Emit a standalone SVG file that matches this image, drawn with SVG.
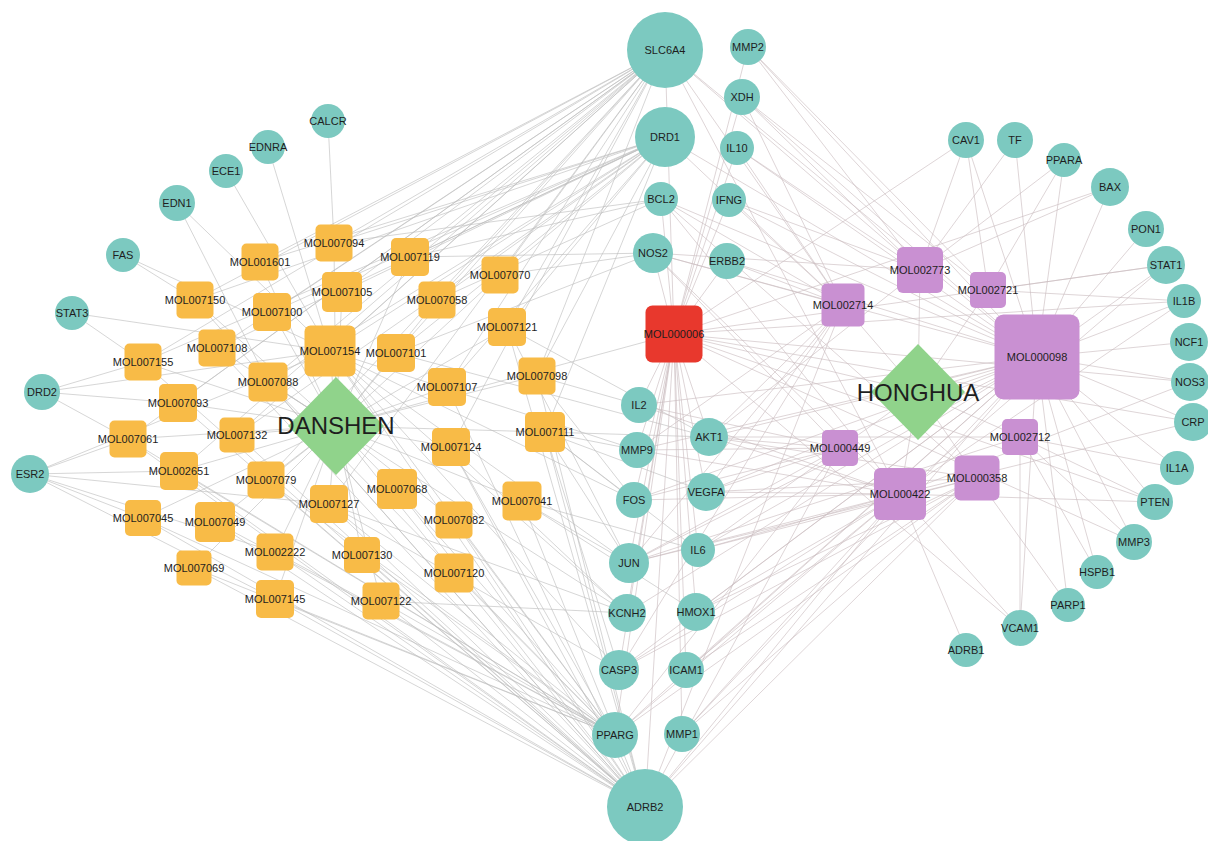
<svg xmlns="http://www.w3.org/2000/svg" width="1208" height="841" viewBox="0 0 1208 841">
<style>
.bg{fill:#ffffff}
.e line{stroke:#bdbdbd;stroke-width:0.7;stroke-opacity:0.9}
.e2 line{stroke:#cbbcc0;stroke-width:0.7;stroke-opacity:0.9}
.t{fill:#7cc9c0}
.d{fill:#f8bb47}
.p{fill:#c990d2}
.r{fill:#e8382d}
.g{fill:#90d38b}
.lb{font-family:"Liberation Sans",Arial,sans-serif;font-size:11px;fill:#1e1e1e;text-anchor:middle}
.big{font-family:"Liberation Sans",Arial,sans-serif;font-size:24px;fill:#1e1e1e;text-anchor:middle}
</style>
<rect class="bg" x="0" y="0" width="1208" height="841"/>
<g id="connectors">
<g class="e">
<line x1="336" y1="426" x2="334" y2="243"/><line x1="336" y1="426" x2="260" y2="262"/><line x1="336" y1="426" x2="410" y2="257"/><line x1="336" y1="426" x2="342" y2="292"/><line x1="336" y1="426" x2="195" y2="300"/><line x1="336" y1="426" x2="272" y2="312"/><line x1="336" y1="426" x2="437" y2="300"/><line x1="336" y1="426" x2="500" y2="275"/><line x1="336" y1="426" x2="507" y2="327"/><line x1="336" y1="426" x2="217" y2="348"/><line x1="336" y1="426" x2="330" y2="351"/><line x1="336" y1="426" x2="396" y2="353"/><line x1="336" y1="426" x2="143" y2="362"/><line x1="336" y1="426" x2="268" y2="382"/><line x1="336" y1="426" x2="178" y2="403"/><line x1="336" y1="426" x2="447" y2="387"/><line x1="336" y1="426" x2="537" y2="376"/><line x1="336" y1="426" x2="128" y2="439"/><line x1="336" y1="426" x2="237" y2="435"/><line x1="336" y1="426" x2="451" y2="447"/><line x1="336" y1="426" x2="545" y2="432"/><line x1="336" y1="426" x2="179" y2="471"/><line x1="336" y1="426" x2="266" y2="480"/><line x1="336" y1="426" x2="329" y2="504"/><line x1="336" y1="426" x2="397" y2="489"/><line x1="336" y1="426" x2="522" y2="501"/><line x1="336" y1="426" x2="454" y2="520"/><line x1="336" y1="426" x2="143" y2="518"/><line x1="336" y1="426" x2="215" y2="522"/><line x1="336" y1="426" x2="275" y2="552"/><line x1="336" y1="426" x2="362" y2="555"/><line x1="336" y1="426" x2="194" y2="568"/><line x1="336" y1="426" x2="275" y2="599"/><line x1="336" y1="426" x2="381" y2="601"/><line x1="336" y1="426" x2="454" y2="573"/><line x1="336" y1="426" x2="674" y2="334"/>
<line x1="665" y1="50" x2="334" y2="243"/><line x1="665" y1="50" x2="260" y2="262"/><line x1="665" y1="50" x2="410" y2="257"/><line x1="665" y1="50" x2="342" y2="292"/><line x1="665" y1="50" x2="195" y2="300"/><line x1="665" y1="50" x2="272" y2="312"/><line x1="665" y1="50" x2="437" y2="300"/><line x1="665" y1="50" x2="500" y2="275"/><line x1="665" y1="50" x2="507" y2="327"/><line x1="665" y1="50" x2="217" y2="348"/><line x1="665" y1="50" x2="330" y2="351"/><line x1="665" y1="50" x2="396" y2="353"/><line x1="665" y1="50" x2="143" y2="362"/><line x1="665" y1="50" x2="268" y2="382"/><line x1="665" y1="50" x2="178" y2="403"/><line x1="665" y1="50" x2="447" y2="387"/><line x1="665" y1="50" x2="537" y2="376"/><line x1="665" y1="50" x2="128" y2="439"/><line x1="665" y1="50" x2="237" y2="435"/><line x1="665" y1="50" x2="451" y2="447"/><line x1="665" y1="50" x2="179" y2="471"/><line x1="665" y1="50" x2="266" y2="480"/><line x1="665" y1="50" x2="329" y2="504"/>
<line x1="665" y1="137" x2="334" y2="243"/><line x1="665" y1="137" x2="260" y2="262"/><line x1="665" y1="137" x2="410" y2="257"/><line x1="665" y1="137" x2="342" y2="292"/><line x1="665" y1="137" x2="195" y2="300"/><line x1="665" y1="137" x2="272" y2="312"/><line x1="665" y1="137" x2="437" y2="300"/><line x1="665" y1="137" x2="500" y2="275"/><line x1="665" y1="137" x2="507" y2="327"/><line x1="665" y1="137" x2="217" y2="348"/><line x1="665" y1="137" x2="330" y2="351"/><line x1="665" y1="137" x2="396" y2="353"/><line x1="665" y1="137" x2="143" y2="362"/><line x1="665" y1="137" x2="268" y2="382"/><line x1="665" y1="137" x2="447" y2="387"/><line x1="665" y1="137" x2="537" y2="376"/><line x1="665" y1="137" x2="237" y2="435"/><line x1="665" y1="137" x2="545" y2="432"/>
<line x1="645" y1="807" x2="195" y2="300"/><line x1="645" y1="807" x2="507" y2="327"/><line x1="645" y1="807" x2="217" y2="348"/><line x1="645" y1="807" x2="330" y2="351"/><line x1="645" y1="807" x2="143" y2="362"/><line x1="645" y1="807" x2="268" y2="382"/><line x1="645" y1="807" x2="178" y2="403"/><line x1="645" y1="807" x2="447" y2="387"/><line x1="645" y1="807" x2="537" y2="376"/><line x1="645" y1="807" x2="128" y2="439"/><line x1="645" y1="807" x2="237" y2="435"/><line x1="645" y1="807" x2="451" y2="447"/><line x1="645" y1="807" x2="545" y2="432"/><line x1="645" y1="807" x2="179" y2="471"/><line x1="645" y1="807" x2="266" y2="480"/><line x1="645" y1="807" x2="329" y2="504"/><line x1="645" y1="807" x2="397" y2="489"/><line x1="645" y1="807" x2="522" y2="501"/><line x1="645" y1="807" x2="454" y2="520"/><line x1="645" y1="807" x2="143" y2="518"/><line x1="645" y1="807" x2="215" y2="522"/><line x1="645" y1="807" x2="275" y2="552"/><line x1="645" y1="807" x2="362" y2="555"/><line x1="645" y1="807" x2="194" y2="568"/><line x1="645" y1="807" x2="275" y2="599"/><line x1="645" y1="807" x2="381" y2="601"/><line x1="645" y1="807" x2="454" y2="573"/>
<line x1="615" y1="735" x2="330" y2="351"/><line x1="615" y1="735" x2="268" y2="382"/><line x1="615" y1="735" x2="128" y2="439"/><line x1="615" y1="735" x2="451" y2="447"/><line x1="615" y1="735" x2="179" y2="471"/><line x1="615" y1="735" x2="266" y2="480"/><line x1="615" y1="735" x2="329" y2="504"/><line x1="615" y1="735" x2="397" y2="489"/><line x1="615" y1="735" x2="454" y2="520"/><line x1="615" y1="735" x2="143" y2="518"/><line x1="615" y1="735" x2="215" y2="522"/><line x1="615" y1="735" x2="275" y2="552"/><line x1="615" y1="735" x2="362" y2="555"/><line x1="615" y1="735" x2="194" y2="568"/><line x1="615" y1="735" x2="275" y2="599"/><line x1="615" y1="735" x2="381" y2="601"/><line x1="615" y1="735" x2="454" y2="573"/>
<line x1="328" y1="121" x2="334" y2="243"/><line x1="268" y1="147" x2="330" y2="351"/><line x1="226" y1="171" x2="330" y2="351"/><line x1="177" y1="203" x2="330" y2="351"/><line x1="177" y1="203" x2="268" y2="382"/><line x1="123" y1="255" x2="195" y2="300"/><line x1="123" y1="255" x2="330" y2="351"/><line x1="72" y1="313" x2="143" y2="362"/><line x1="72" y1="313" x2="330" y2="351"/><line x1="42" y1="392" x2="143" y2="362"/><line x1="42" y1="392" x2="128" y2="439"/><line x1="42" y1="392" x2="178" y2="403"/><line x1="42" y1="392" x2="330" y2="351"/><line x1="30" y1="474" x2="179" y2="471"/><line x1="30" y1="474" x2="128" y2="439"/><line x1="30" y1="474" x2="143" y2="518"/><line x1="30" y1="474" x2="275" y2="552"/><line x1="30" y1="474" x2="275" y2="599"/><line x1="30" y1="474" x2="329" y2="504"/><line x1="30" y1="474" x2="330" y2="351"/>
<line x1="653" y1="253" x2="500" y2="275"/><line x1="653" y1="253" x2="410" y2="257"/><line x1="653" y1="253" x2="396" y2="353"/><line x1="661" y1="199" x2="334" y2="243"/><line x1="661" y1="199" x2="410" y2="257"/><line x1="661" y1="199" x2="437" y2="300"/><line x1="627" y1="613" x2="330" y2="351"/><line x1="627" y1="613" x2="451" y2="447"/><line x1="627" y1="613" x2="268" y2="382"/><line x1="627" y1="613" x2="329" y2="504"/><line x1="627" y1="613" x2="381" y2="601"/><line x1="619" y1="670" x2="330" y2="351"/><line x1="619" y1="670" x2="329" y2="504"/><line x1="619" y1="670" x2="545" y2="432"/><line x1="629" y1="563" x2="545" y2="432"/><line x1="629" y1="563" x2="522" y2="501"/><line x1="629" y1="563" x2="507" y2="327"/><line x1="629" y1="563" x2="330" y2="351"/><line x1="709" y1="437" x2="545" y2="432"/><line x1="709" y1="437" x2="396" y2="353"/><line x1="709" y1="437" x2="507" y2="327"/><line x1="634" y1="500" x2="545" y2="432"/><line x1="634" y1="500" x2="537" y2="376"/><line x1="634" y1="500" x2="330" y2="351"/><line x1="639" y1="405" x2="537" y2="376"/><line x1="696" y1="612" x2="522" y2="501"/><line x1="698" y1="550" x2="522" y2="501"/><line x1="698" y1="550" x2="545" y2="432"/><line x1="637" y1="450" x2="545" y2="432"/><line x1="637" y1="450" x2="330" y2="351"/><line x1="706" y1="492" x2="545" y2="432"/>
</g>
<g class="e2">
<line x1="918" y1="392" x2="920" y2="270"/><line x1="918" y1="392" x2="988" y2="290"/><line x1="918" y1="392" x2="843" y2="305"/><line x1="918" y1="392" x2="1037" y2="357"/><line x1="918" y1="392" x2="840" y2="448"/><line x1="918" y1="392" x2="1020" y2="437"/><line x1="918" y1="392" x2="900" y2="494"/><line x1="918" y1="392" x2="977" y2="478"/><line x1="918" y1="392" x2="674" y2="334"/>
<line x1="665" y1="50" x2="920" y2="270"/><line x1="665" y1="50" x2="843" y2="305"/><line x1="665" y1="50" x2="1037" y2="357"/><line x1="665" y1="50" x2="900" y2="494"/><line x1="665" y1="50" x2="674" y2="334"/><line x1="665" y1="137" x2="843" y2="305"/><line x1="665" y1="137" x2="1037" y2="357"/><line x1="645" y1="807" x2="1037" y2="357"/><line x1="645" y1="807" x2="840" y2="448"/><line x1="645" y1="807" x2="900" y2="494"/><line x1="645" y1="807" x2="977" y2="478"/><line x1="645" y1="807" x2="843" y2="305"/><line x1="645" y1="807" x2="674" y2="334"/><line x1="615" y1="735" x2="1037" y2="357"/><line x1="615" y1="735" x2="900" y2="494"/><line x1="615" y1="735" x2="674" y2="334"/><line x1="615" y1="735" x2="840" y2="448"/><line x1="615" y1="735" x2="977" y2="478"/>
<line x1="674" y1="334" x2="639" y2="405"/><line x1="674" y1="334" x2="637" y2="450"/><line x1="674" y1="334" x2="709" y2="437"/><line x1="674" y1="334" x2="634" y2="500"/><line x1="674" y1="334" x2="706" y2="492"/><line x1="674" y1="334" x2="629" y2="563"/><line x1="674" y1="334" x2="698" y2="550"/><line x1="674" y1="334" x2="696" y2="612"/><line x1="674" y1="334" x2="627" y2="613"/><line x1="674" y1="334" x2="619" y2="670"/><line x1="674" y1="334" x2="686" y2="670"/><line x1="674" y1="334" x2="682" y2="734"/><line x1="674" y1="334" x2="653" y2="253"/><line x1="674" y1="334" x2="661" y2="199"/><line x1="674" y1="334" x2="729" y2="200"/><line x1="674" y1="334" x2="727" y2="261"/><line x1="674" y1="334" x2="737" y2="148"/><line x1="674" y1="334" x2="742" y2="97"/><line x1="674" y1="334" x2="748" y2="47"/><line x1="674" y1="334" x2="966" y2="140"/><line x1="674" y1="334" x2="1110" y2="187"/><line x1="674" y1="334" x2="1166" y2="265"/><line x1="674" y1="334" x2="1190" y2="382"/><line x1="674" y1="334" x2="1184" y2="301"/><line x1="674" y1="334" x2="1155" y2="502"/><line x1="674" y1="334" x2="1193" y2="422"/><line x1="674" y1="334" x2="1134" y2="542"/><line x1="674" y1="334" x2="1020" y2="628"/>
<line x1="1037" y1="357" x2="966" y2="140"/><line x1="1037" y1="357" x2="1015" y2="140"/><line x1="1037" y1="357" x2="1064" y2="160"/><line x1="1037" y1="357" x2="1110" y2="187"/><line x1="1037" y1="357" x2="1146" y2="229"/><line x1="1037" y1="357" x2="1166" y2="265"/><line x1="1037" y1="357" x2="1184" y2="301"/><line x1="1037" y1="357" x2="1189" y2="342"/><line x1="1037" y1="357" x2="1190" y2="382"/><line x1="1037" y1="357" x2="1193" y2="422"/><line x1="1037" y1="357" x2="1177" y2="468"/><line x1="1037" y1="357" x2="1155" y2="502"/><line x1="1037" y1="357" x2="1134" y2="542"/><line x1="1037" y1="357" x2="1097" y2="572"/><line x1="1037" y1="357" x2="1068" y2="605"/><line x1="1037" y1="357" x2="1020" y2="628"/><line x1="1037" y1="357" x2="748" y2="47"/><line x1="1037" y1="357" x2="742" y2="97"/><line x1="1037" y1="357" x2="737" y2="148"/><line x1="1037" y1="357" x2="729" y2="200"/><line x1="1037" y1="357" x2="661" y2="199"/><line x1="1037" y1="357" x2="653" y2="253"/><line x1="1037" y1="357" x2="727" y2="261"/><line x1="1037" y1="357" x2="639" y2="405"/><line x1="1037" y1="357" x2="637" y2="450"/><line x1="1037" y1="357" x2="709" y2="437"/><line x1="1037" y1="357" x2="634" y2="500"/><line x1="1037" y1="357" x2="706" y2="492"/><line x1="1037" y1="357" x2="629" y2="563"/><line x1="1037" y1="357" x2="698" y2="550"/><line x1="1037" y1="357" x2="696" y2="612"/><line x1="1037" y1="357" x2="686" y2="670"/><line x1="1037" y1="357" x2="682" y2="734"/><line x1="1037" y1="357" x2="619" y2="670"/><line x1="1037" y1="357" x2="627" y2="613"/>
<line x1="900" y1="494" x2="709" y2="437"/><line x1="900" y1="494" x2="634" y2="500"/><line x1="900" y1="494" x2="706" y2="492"/><line x1="900" y1="494" x2="629" y2="563"/><line x1="900" y1="494" x2="698" y2="550"/><line x1="900" y1="494" x2="696" y2="612"/><line x1="900" y1="494" x2="686" y2="670"/><line x1="900" y1="494" x2="682" y2="734"/><line x1="900" y1="494" x2="619" y2="670"/><line x1="900" y1="494" x2="661" y2="199"/><line x1="900" y1="494" x2="653" y2="253"/><line x1="900" y1="494" x2="637" y2="450"/><line x1="900" y1="494" x2="639" y2="405"/><line x1="900" y1="494" x2="1020" y2="628"/><line x1="900" y1="494" x2="966" y2="650"/><line x1="900" y1="494" x2="1190" y2="382"/><line x1="900" y1="494" x2="1193" y2="422"/><line x1="900" y1="494" x2="1166" y2="265"/><line x1="900" y1="494" x2="1155" y2="502"/><line x1="900" y1="494" x2="1184" y2="301"/>
<line x1="920" y1="270" x2="966" y2="140"/><line x1="920" y1="270" x2="1015" y2="140"/><line x1="920" y1="270" x2="1110" y2="187"/><line x1="920" y1="270" x2="742" y2="97"/><line x1="920" y1="270" x2="748" y2="47"/><line x1="920" y1="270" x2="737" y2="148"/><line x1="920" y1="270" x2="653" y2="253"/><line x1="920" y1="270" x2="709" y2="437"/><line x1="920" y1="270" x2="729" y2="200"/><line x1="920" y1="270" x2="1064" y2="160"/>
<line x1="988" y1="290" x2="1064" y2="160"/><line x1="988" y1="290" x2="748" y2="47"/><line x1="988" y1="290" x2="742" y2="97"/><line x1="988" y1="290" x2="1166" y2="265"/><line x1="988" y1="290" x2="1184" y2="301"/><line x1="988" y1="290" x2="966" y2="140"/>
<line x1="843" y1="305" x2="729" y2="200"/><line x1="843" y1="305" x2="727" y2="261"/><line x1="843" y1="305" x2="653" y2="253"/><line x1="843" y1="305" x2="661" y2="199"/><line x1="843" y1="305" x2="737" y2="148"/><line x1="843" y1="305" x2="742" y2="97"/><line x1="843" y1="305" x2="709" y2="437"/><line x1="843" y1="305" x2="706" y2="492"/><line x1="843" y1="305" x2="629" y2="563"/><line x1="843" y1="305" x2="619" y2="670"/><line x1="843" y1="305" x2="637" y2="450"/>
<line x1="840" y1="448" x2="709" y2="437"/><line x1="840" y1="448" x2="706" y2="492"/><line x1="840" y1="448" x2="634" y2="500"/><line x1="840" y1="448" x2="629" y2="563"/><line x1="840" y1="448" x2="698" y2="550"/><line x1="840" y1="448" x2="637" y2="450"/><line x1="840" y1="448" x2="639" y2="405"/><line x1="840" y1="448" x2="653" y2="253"/>
<line x1="1020" y1="437" x2="1020" y2="628"/><line x1="1020" y1="437" x2="1097" y2="572"/><line x1="1020" y1="437" x2="1134" y2="542"/><line x1="1020" y1="437" x2="1177" y2="468"/><line x1="1020" y1="437" x2="709" y2="437"/><line x1="1020" y1="437" x2="629" y2="563"/><line x1="1020" y1="437" x2="1155" y2="502"/>
<line x1="977" y1="478" x2="709" y2="437"/><line x1="977" y1="478" x2="706" y2="492"/><line x1="977" y1="478" x2="629" y2="563"/><line x1="977" y1="478" x2="698" y2="550"/><line x1="977" y1="478" x2="696" y2="612"/><line x1="977" y1="478" x2="619" y2="670"/><line x1="977" y1="478" x2="686" y2="670"/><line x1="977" y1="478" x2="682" y2="734"/><line x1="977" y1="478" x2="661" y2="199"/><line x1="977" y1="478" x2="1068" y2="605"/>
</g>
</g>
<g id="n-DANSHEN"><polygon class="g" points="336,377 384,426 336,475 288,426"/><text class="big" x="336" y="434">DANSHEN</text></g>
<g id="n-HONGHUA"><polygon class="g" points="918,344 965,392 918,440 871,392"/><text class="big" x="918" y="401">HONGHUA</text></g>
<g id="n-MOL007094"><rect class="d" x="315.5" y="224.5" width="37" height="37" rx="5"/><text class="lb" x="334" y="247">MOL007094</text></g>
<g id="n-MOL001601"><rect class="d" x="241.5" y="243.5" width="37" height="37" rx="5"/><text class="lb" x="260" y="266">MOL001601</text></g>
<g id="n-MOL007119"><rect class="d" x="391" y="238" width="38" height="38" rx="5"/><text class="lb" x="410" y="261">MOL007119</text></g>
<g id="n-MOL007105"><rect class="d" x="322" y="272" width="40" height="40" rx="5"/><text class="lb" x="342" y="296">MOL007105</text></g>
<g id="n-MOL007150"><rect class="d" x="176.5" y="281.5" width="37" height="37" rx="5"/><text class="lb" x="195" y="304">MOL007150</text></g>
<g id="n-MOL007100"><rect class="d" x="253" y="293" width="38" height="38" rx="5"/><text class="lb" x="272" y="316">MOL007100</text></g>
<g id="n-MOL007058"><rect class="d" x="418.5" y="281.5" width="37" height="37" rx="5"/><text class="lb" x="437" y="304">MOL007058</text></g>
<g id="n-MOL007070"><rect class="d" x="481.5" y="256.5" width="37" height="37" rx="5"/><text class="lb" x="500" y="279">MOL007070</text></g>
<g id="n-MOL007121"><rect class="d" x="488" y="308" width="38" height="38" rx="5"/><text class="lb" x="507" y="331">MOL007121</text></g>
<g id="n-MOL007108"><rect class="d" x="198.5" y="329.5" width="37" height="37" rx="5"/><text class="lb" x="217" y="352">MOL007108</text></g>
<g id="n-MOL007154"><rect class="d" x="304.5" y="325.5" width="51" height="51" rx="6"/><text class="lb" x="330" y="355">MOL007154</text></g>
<g id="n-MOL007101"><rect class="d" x="377" y="334" width="38" height="38" rx="5"/><text class="lb" x="396" y="357">MOL007101</text></g>
<g id="n-MOL007155"><rect class="d" x="124.5" y="343.5" width="37" height="37" rx="5"/><text class="lb" x="143" y="366">MOL007155</text></g>
<g id="n-MOL007088"><rect class="d" x="248.5" y="362.5" width="39" height="39" rx="5"/><text class="lb" x="268" y="386">MOL007088</text></g>
<g id="n-MOL007093"><rect class="d" x="159" y="384" width="38" height="38" rx="5"/><text class="lb" x="178" y="407">MOL007093</text></g>
<g id="n-MOL007107"><rect class="d" x="428" y="368" width="38" height="38" rx="5"/><text class="lb" x="447" y="391">MOL007107</text></g>
<g id="n-MOL007098"><rect class="d" x="518.5" y="357.5" width="37" height="37" rx="5"/><text class="lb" x="537" y="380">MOL007098</text></g>
<g id="n-MOL007061"><rect class="d" x="109.5" y="420.5" width="37" height="37" rx="5"/><text class="lb" x="128" y="443">MOL007061</text></g>
<g id="n-MOL007132"><rect class="d" x="219.5" y="417.5" width="35" height="35" rx="5"/><text class="lb" x="237" y="439">MOL007132</text></g>
<g id="n-MOL007124"><rect class="d" x="432" y="428" width="38" height="38" rx="5"/><text class="lb" x="451" y="451">MOL007124</text></g>
<g id="n-MOL007111"><rect class="d" x="525" y="412" width="40" height="40" rx="5"/><text class="lb" x="545" y="436">MOL007111</text></g>
<g id="n-MOL002651"><rect class="d" x="160" y="452" width="38" height="38" rx="5"/><text class="lb" x="179" y="475">MOL002651</text></g>
<g id="n-MOL007079"><rect class="d" x="247.5" y="461.5" width="37" height="37" rx="5"/><text class="lb" x="266" y="484">MOL007079</text></g>
<g id="n-MOL007127"><rect class="d" x="310" y="485" width="38" height="38" rx="5"/><text class="lb" x="329" y="508">MOL007127</text></g>
<g id="n-MOL007068"><rect class="d" x="377" y="469" width="40" height="40" rx="5"/><text class="lb" x="397" y="493">MOL007068</text></g>
<g id="n-MOL007041"><rect class="d" x="502.5" y="481.5" width="39" height="39" rx="5"/><text class="lb" x="522" y="505">MOL007041</text></g>
<g id="n-MOL007082"><rect class="d" x="435.5" y="501.5" width="37" height="37" rx="5"/><text class="lb" x="454" y="524">MOL007082</text></g>
<g id="n-MOL007045"><rect class="d" x="125" y="500" width="36" height="36" rx="5"/><text class="lb" x="143" y="522">MOL007045</text></g>
<g id="n-MOL007049"><rect class="d" x="195" y="502" width="40" height="40" rx="5"/><text class="lb" x="215" y="526">MOL007049</text></g>
<g id="n-MOL002222"><rect class="d" x="256.5" y="533.5" width="37" height="37" rx="5"/><text class="lb" x="275" y="556">MOL002222</text></g>
<g id="n-MOL007130"><rect class="d" x="344" y="537" width="36" height="36" rx="5"/><text class="lb" x="362" y="559">MOL007130</text></g>
<g id="n-MOL007069"><rect class="d" x="176.5" y="550.5" width="35" height="35" rx="5"/><text class="lb" x="194" y="572">MOL007069</text></g>
<g id="n-MOL007145"><rect class="d" x="256" y="580" width="38" height="38" rx="5"/><text class="lb" x="275" y="603">MOL007145</text></g>
<g id="n-MOL007122"><rect class="d" x="362.5" y="582.5" width="37" height="37" rx="5"/><text class="lb" x="381" y="605">MOL007122</text></g>
<g id="n-MOL007120"><rect class="d" x="434.5" y="553.5" width="39" height="39" rx="5"/><text class="lb" x="454" y="577">MOL007120</text></g>
<g id="n-MOL000006"><rect class="r" x="645.5" y="305.5" width="57" height="57" rx="7"/><text class="lb" x="674" y="338">MOL000006</text></g>
<g id="n-MOL002773"><rect class="p" x="897" y="247" width="46" height="46" rx="6"/><text class="lb" x="920" y="274">MOL002773</text></g>
<g id="n-MOL002721"><rect class="p" x="970" y="272" width="36" height="36" rx="5"/><text class="lb" x="988" y="294">MOL002721</text></g>
<g id="n-MOL002714"><rect class="p" x="821.5" y="283.5" width="43" height="43" rx="5"/><text class="lb" x="843" y="309">MOL002714</text></g>
<g id="n-MOL000098"><rect class="p" x="994.5" y="314.5" width="85" height="85" rx="9"/><text class="lb" x="1037" y="361">MOL000098</text></g>
<g id="n-MOL000449"><rect class="p" x="822" y="430" width="36" height="36" rx="5"/><text class="lb" x="840" y="452">MOL000449</text></g>
<g id="n-MOL002712"><rect class="p" x="1002" y="419" width="36" height="36" rx="5"/><text class="lb" x="1020" y="441">MOL002712</text></g>
<g id="n-MOL000422"><rect class="p" x="874" y="468" width="52" height="52" rx="6"/><text class="lb" x="900" y="498">MOL000422</text></g>
<g id="n-MOL000358"><rect class="p" x="954.5" y="455.5" width="45" height="45" rx="6"/><text class="lb" x="977" y="482">MOL000358</text></g>
<g id="n-SLC6A4"><circle class="t" cx="665" cy="50" r="38"/><text class="lb" x="665" y="54">SLC6A4</text></g>
<g id="n-MMP2"><circle class="t" cx="748" cy="47" r="18"/><text class="lb" x="748" y="51">MMP2</text></g>
<g id="n-XDH"><circle class="t" cx="742" cy="97" r="18"/><text class="lb" x="742" y="101">XDH</text></g>
<g id="n-DRD1"><circle class="t" cx="665" cy="137" r="30"/><text class="lb" x="665" y="141">DRD1</text></g>
<g id="n-IL10"><circle class="t" cx="737" cy="148" r="17"/><text class="lb" x="737" y="152">IL10</text></g>
<g id="n-CALCR"><circle class="t" cx="328" cy="121" r="17"/><text class="lb" x="328" y="125">CALCR</text></g>
<g id="n-EDNRA"><circle class="t" cx="268" cy="147" r="17"/><text class="lb" x="268" y="151">EDNRA</text></g>
<g id="n-ECE1"><circle class="t" cx="226" cy="171" r="17"/><text class="lb" x="226" y="175">ECE1</text></g>
<g id="n-EDN1"><circle class="t" cx="177" cy="203" r="18"/><text class="lb" x="177" y="207">EDN1</text></g>
<g id="n-FAS"><circle class="t" cx="123" cy="255" r="17"/><text class="lb" x="123" y="259">FAS</text></g>
<g id="n-STAT3"><circle class="t" cx="72" cy="313" r="17"/><text class="lb" x="72" y="317">STAT3</text></g>
<g id="n-DRD2"><circle class="t" cx="42" cy="392" r="18"/><text class="lb" x="42" y="396">DRD2</text></g>
<g id="n-ESR2"><circle class="t" cx="30" cy="474" r="19"/><text class="lb" x="30" y="478">ESR2</text></g>
<g id="n-BCL2"><circle class="t" cx="661" cy="199" r="17"/><text class="lb" x="661" y="203">BCL2</text></g>
<g id="n-IFNG"><circle class="t" cx="729" cy="200" r="17"/><text class="lb" x="729" y="204">IFNG</text></g>
<g id="n-NOS2"><circle class="t" cx="653" cy="253" r="20"/><text class="lb" x="653" y="257">NOS2</text></g>
<g id="n-ERBB2"><circle class="t" cx="727" cy="261" r="18"/><text class="lb" x="727" y="265">ERBB2</text></g>
<g id="n-IL2"><circle class="t" cx="639" cy="405" r="18"/><text class="lb" x="639" y="409">IL2</text></g>
<g id="n-MMP9"><circle class="t" cx="637" cy="450" r="18"/><text class="lb" x="637" y="454">MMP9</text></g>
<g id="n-AKT1"><circle class="t" cx="709" cy="437" r="19"/><text class="lb" x="709" y="441">AKT1</text></g>
<g id="n-FOS"><circle class="t" cx="634" cy="500" r="18"/><text class="lb" x="634" y="504">FOS</text></g>
<g id="n-VEGFA"><circle class="t" cx="706" cy="492" r="19"/><text class="lb" x="706" y="496">VEGFA</text></g>
<g id="n-JUN"><circle class="t" cx="629" cy="563" r="20"/><text class="lb" x="629" y="567">JUN</text></g>
<g id="n-IL6"><circle class="t" cx="698" cy="550" r="17"/><text class="lb" x="698" y="554">IL6</text></g>
<g id="n-KCNH2"><circle class="t" cx="627" cy="613" r="19"/><text class="lb" x="627" y="617">KCNH2</text></g>
<g id="n-HMOX1"><circle class="t" cx="696" cy="612" r="19"/><text class="lb" x="696" y="616">HMOX1</text></g>
<g id="n-CASP3"><circle class="t" cx="619" cy="670" r="20"/><text class="lb" x="619" y="674">CASP3</text></g>
<g id="n-ICAM1"><circle class="t" cx="686" cy="670" r="18"/><text class="lb" x="686" y="674">ICAM1</text></g>
<g id="n-PPARG"><circle class="t" cx="615" cy="735" r="23"/><text class="lb" x="615" y="739">PPARG</text></g>
<g id="n-MMP1"><circle class="t" cx="682" cy="734" r="18"/><text class="lb" x="682" y="738">MMP1</text></g>
<g id="n-ADRB2"><circle class="t" cx="645" cy="807" r="38"/><text class="lb" x="645" y="811">ADRB2</text></g>
<g id="n-CAV1"><circle class="t" cx="966" cy="140" r="18"/><text class="lb" x="966" y="144">CAV1</text></g>
<g id="n-TF"><circle class="t" cx="1015" cy="140" r="18"/><text class="lb" x="1015" y="144">TF</text></g>
<g id="n-PPARA"><circle class="t" cx="1064" cy="160" r="17"/><text class="lb" x="1064" y="164">PPARA</text></g>
<g id="n-BAX"><circle class="t" cx="1110" cy="187" r="19"/><text class="lb" x="1110" y="191">BAX</text></g>
<g id="n-PON1"><circle class="t" cx="1146" cy="229" r="18"/><text class="lb" x="1146" y="233">PON1</text></g>
<g id="n-STAT1"><circle class="t" cx="1166" cy="265" r="19"/><text class="lb" x="1166" y="269">STAT1</text></g>
<g id="n-IL1B"><circle class="t" cx="1184" cy="301" r="17"/><text class="lb" x="1184" y="305">IL1B</text></g>
<g id="n-NCF1"><circle class="t" cx="1189" cy="342" r="19"/><text class="lb" x="1189" y="346">NCF1</text></g>
<g id="n-NOS3"><circle class="t" cx="1190" cy="382" r="19"/><text class="lb" x="1190" y="386">NOS3</text></g>
<g id="n-CRP"><circle class="t" cx="1193" cy="422" r="19"/><text class="lb" x="1193" y="426">CRP</text></g>
<g id="n-IL1A"><circle class="t" cx="1177" cy="468" r="17"/><text class="lb" x="1177" y="472">IL1A</text></g>
<g id="n-PTEN"><circle class="t" cx="1155" cy="502" r="18"/><text class="lb" x="1155" y="506">PTEN</text></g>
<g id="n-MMP3"><circle class="t" cx="1134" cy="542" r="18"/><text class="lb" x="1134" y="546">MMP3</text></g>
<g id="n-HSPB1"><circle class="t" cx="1097" cy="572" r="17"/><text class="lb" x="1097" y="576">HSPB1</text></g>
<g id="n-PARP1"><circle class="t" cx="1068" cy="605" r="17"/><text class="lb" x="1068" y="609">PARP1</text></g>
<g id="n-VCAM1"><circle class="t" cx="1020" cy="628" r="18"/><text class="lb" x="1020" y="632">VCAM1</text></g>
<g id="n-ADRB1"><circle class="t" cx="966" cy="650" r="17"/><text class="lb" x="966" y="654">ADRB1</text></g>
</svg>
